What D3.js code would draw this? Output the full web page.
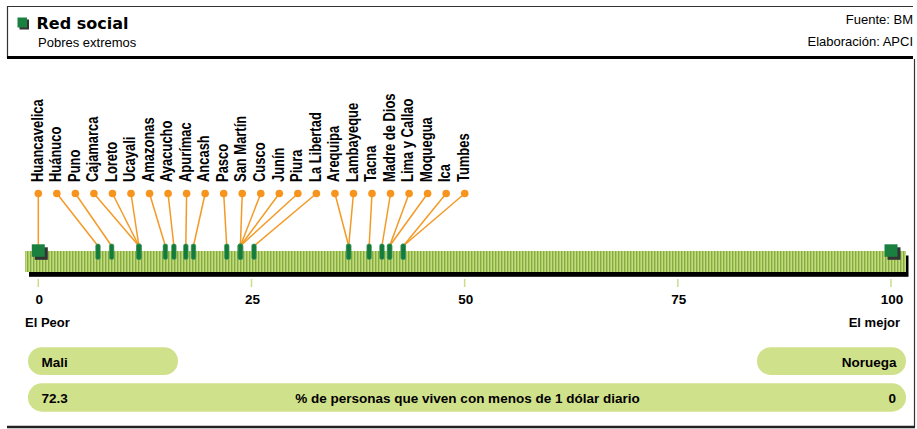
<!DOCTYPE html>
<html><head><meta charset="utf-8">
<script src="https://cdn.jsdelivr.net/npm/d3@7"></script>
<style>
body{margin:0;background:#fff;}
svg{display:block;font-family:"Liberation Sans",Arial,sans-serif;}
</style></head>
<body><svg id="chart" width="917" height="429"></svg>
<script>
const regions = ["Huancavelica","Huánuco","Puno","Cajamarca","Loreto","Ucayali","Amazonas","Ayacucho","Apurímac","Ancash","Pasco","San Martín","Cusco","Junín","Piura","La Libertad","Arequipa","Lambayeque","Tacna","Madre de Dios","Lima y Callao","Moquegua","Ica","Tumbes"];
const values = [0,7.0,8.6,11.8,11.8,11.8,14.9,15.9,17.3,18.2,22.1,23.7,23.7,23.7,23.7,25.3,36.4,36.4,38.8,40.3,41.2,41.2,42.8,42.8];
const extremes = ["Mali","Noruega"];
const extremeValues = [0,100];
const indicatorValues = [72.3, 0];
const ticks = [0,25,50,75,100];

const svg = d3.select("#chart");
const x = d3.scaleLinear().domain([0,100]).range([38.3,891]);
const lx = d3.scalePoint().domain(regions).range([38.3,464.7]);

// pattern
const defs = svg.append("defs");
const pat = defs.append("pattern").attr("id","stripes").attr("patternUnits","userSpaceOnUse")
  .attr("width",3).attr("height",10);
pat.append("rect").attr("width",3).attr("height",10).attr("fill","#c3db80");
pat.append("rect").attr("width",1.4).attr("height",10).attr("fill","#84ad3e");

// header
svg.append("path").attr("d","M7.5,58 V6.5 H913").attr("fill","none").attr("stroke","#333").attr("stroke-width",1.2);
svg.append("line").attr("x1",7).attr("x2",913).attr("y1",57.5).attr("y2",57.5).attr("stroke","#000").attr("stroke-width",3);
svg.append("rect").attr("x",19.5).attr("y",19.5).attr("width",9.5).attr("height",10).attr("fill","#333");
svg.append("rect").attr("x",17.5).attr("y",17.5).attr("width",9.5).attr("height",10).attr("fill","#1a8040");
svg.append("text").attr("x",36.5).attr("y",29).attr("font-family","'DejaVu Sans',sans-serif").attr("font-weight","bold")
  .attr("font-size",16).attr("fill","#000").text("Red social");
svg.append("text").attr("x",38).attr("y",46.5).attr("font-size",13).attr("fill","#000").text("Pobres extremos");
svg.append("text").attr("x",913).attr("y",23.5).attr("text-anchor","end").attr("font-size",13).text("Fuente: BM");
svg.append("text").attr("x",913).attr("y",45.5).attr("text-anchor","end").attr("font-size",13).text("Elaboración: APCI");

// right border and bottom line
svg.append("line").attr("x1",914.5).attr("x2",914.5).attr("y1",59).attr("y2",427).attr("stroke","#333").attr("stroke-width",1.2);
svg.append("line").attr("x1",7).attr("x2",915).attr("y1",427).attr("y2",427).attr("stroke","#222").attr("stroke-width",2.5);

// bar
svg.append("rect").attr("x",29).attr("y",255.5).attr("width",879.5).attr("height",21.3).attr("fill","#000");
svg.append("rect").attr("x",25).attr("y",251).attr("width",881).attr("height",21).attr("fill","url(#stripes)");

// ticks
svg.selectAll(".tk").data(ticks).join("line").attr("class","tk")
  .attr("x1",d=>x(d)).attr("x2",d=>x(d)).attr("y1",279).attr("y2",287)
  .attr("stroke","#c9dd8c").attr("stroke-width",1.5);
svg.selectAll(".tl").data(ticks).join("text").attr("class","tl")
  .attr("x",d=>x(d)+1).attr("y",304).attr("text-anchor","middle").attr("font-weight","bold").attr("font-size",13.5)
  .text(d=>d);
svg.append("text").attr("x",25).attr("y",327).attr("font-weight","bold").attr("font-size",13).text("El Peor");
svg.append("text").attr("x",900).attr("y",327).attr("text-anchor","end").attr("font-weight","bold").attr("font-size",13).text("El mejor");

// connector lines
const data = regions.map((r,i)=>({r,v:values[i]}));
svg.selectAll(".cn").data(data).join("line").attr("class","cn")
  .attr("x1",d=>lx(d.r)).attr("y1",193.5).attr("x2",d=>x(d.v)).attr("y2",246)
  .attr("stroke","#f39a26").attr("stroke-width",1.5);
svg.selectAll(".dot").data(data).join("circle").attr("class","dot")
  .attr("cx",d=>lx(d.r)).attr("cy",193.5).attr("r",3.8).attr("fill","#f7941d");
svg.selectAll(".lab").data(data).join("text").attr("class","lab")
  .attr("transform",d=>`translate(${lx(d.r)+4.2},182) rotate(-90) scale(0.81,1)`)
  .attr("font-weight","bold").attr("font-size",16).attr("fill","#000").text(d=>d.r);

// markers
svg.selectAll(".mk").data(data.filter(d=>d.v>0)).join("rect").attr("class","mk")
  .attr("x",d=>x(d.v)-2.3).attr("y",244).attr("width",4.6).attr("height",15.5).attr("rx",1.8)
  .attr("fill","#137b3b").attr("stroke","#4f9d62").attr("stroke-width",0.6);

// extreme squares
svg.selectAll(".exs").data(extremeValues).join("rect").attr("class","exs")
  .attr("x",d=>x(d)-6.5+3).attr("y",247.3).attr("width",13).attr("height",12.5).attr("fill","#333");
svg.selectAll(".ex").data(extremeValues).join("rect").attr("class","ex")
  .attr("x",d=>x(d)-6.5).attr("y",244.3).attr("width",13).attr("height",12.5).attr("fill","#1a8040");

// bottom pills
const pillColor = "#d0e18b";
svg.append("rect").attr("x",28).attr("y",347.3).attr("width",150).attr("height",27.7).attr("rx",13.8).attr("fill",pillColor);
svg.append("rect").attr("x",757).attr("y",347.3).attr("width",149).attr("height",27.7).attr("rx",13.8).attr("fill",pillColor);
svg.append("rect").attr("x",28).attr("y",383.3).attr("width",878).attr("height",28.4).attr("rx",14).attr("fill",pillColor);
svg.append("text").attr("x",41.5).attr("y",366.5).attr("font-weight","bold").attr("font-size",13.5).text(extremes[0]);
svg.append("text").attr("x",896.5).attr("y",366.5).attr("text-anchor","end").attr("font-weight","bold").attr("font-size",13.5).text(extremes[1]);
svg.append("text").attr("x",41.5).attr("y",402.7).attr("font-weight","bold").attr("font-size",13.5).text(indicatorValues[0]);
svg.append("text").attr("x",896).attr("y",402.7).attr("text-anchor","end").attr("font-weight","bold").attr("font-size",13.5).text(indicatorValues[1]);
svg.append("text").attr("x",467.5).attr("y",402.7).attr("text-anchor","middle").attr("font-weight","bold").attr("font-size",13.5)
  .text("% de personas que viven con menos de 1 dólar diario");
</script></body></html>
